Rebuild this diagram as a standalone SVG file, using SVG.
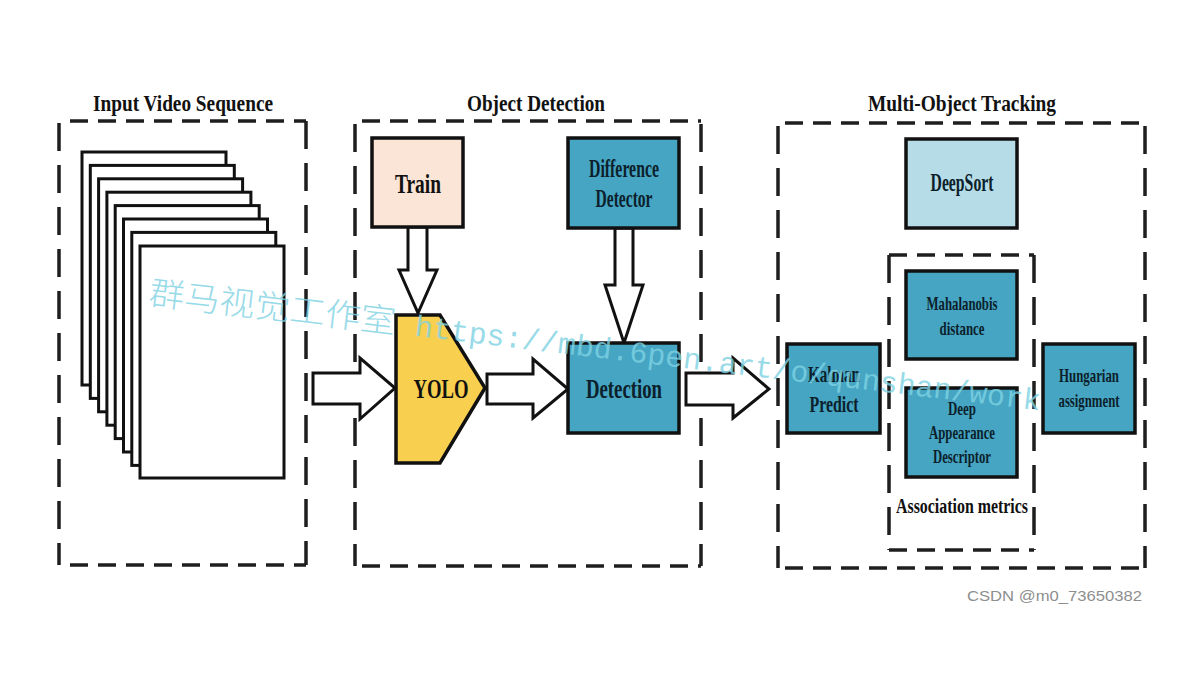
<svg xmlns="http://www.w3.org/2000/svg" width="1187" height="680" viewBox="0 0 1187 680">
<style>
.h{fill:none;stroke:#1e1e1e;stroke-width:3.5;stroke-dasharray:18 10}
.v{fill:none;stroke:#1e1e1e;stroke-width:3.5;stroke-dasharray:28 14}
.frame{fill:#fff;stroke:#111;stroke-width:3}
.box{stroke:#111;stroke-width:3.5}
.blue{fill:#45a5c3}
.lt{fill:#b6dce8}
.peach{fill:#fbe5d6}
.yolo{fill:#f8cf4f}
.arrow{fill:#fff;stroke:#111;stroke-width:3;stroke-linejoin:miter}
.t{font-family:"Liberation Serif","Times New Roman",serif;font-weight:bold;text-anchor:middle;fill:#111}
.tb{font-family:"Liberation Serif","Times New Roman",serif;font-weight:bold;text-anchor:middle;fill:#0c1f2b}
.wm{fill:#7fd3e3;opacity:0.8}
</style>
<rect width="1187" height="680" fill="#fff"/>

<g id="panel-input">
<path class="h" d="M70 121H306M70 565H306"/>
<path class="v" d="M59 123V565M306 121V565"/>
<text class="t" x="183" y="111" font-size="24" textLength="180" lengthAdjust="spacingAndGlyphs">Input Video Sequence</text>
</g>
<g id="video-frames">
<rect class="frame" x="82" y="152" width="144" height="233"/>
<rect class="frame" x="90.3" y="165.4" width="144" height="233"/>
<rect class="frame" x="98.6" y="178.8" width="144" height="233"/>
<rect class="frame" x="106.9" y="192.2" width="144" height="233"/>
<rect class="frame" x="115.2" y="205.6" width="144" height="233"/>
<rect class="frame" x="123.5" y="219" width="144" height="233"/>
<rect class="frame" x="131.8" y="232.4" width="144" height="233"/>
<rect class="frame" x="140" y="246" width="144" height="232"/>
</g>

<g id="panel-detection">
<path class="h" d="M362 121H701M362 566H701"/>
<path class="v" d="M355 124V566M701 124V566"/>
<text class="t" x="536" y="111" font-size="24" textLength="138" lengthAdjust="spacingAndGlyphs">Object Detection</text>
</g>

<g id="panel-tracking">
<path class="h" d="M785 123H1145M785 568H1145"/>
<path class="v" d="M778 126V568M1145 126V568"/>
<text class="t" x="962" y="111" font-size="24" textLength="188" lengthAdjust="spacingAndGlyphs">Multi-Object Tracking</text>
</g>

<g id="panel-association">
<path class="h" d="M889 255H1034M889 550H1034"/>
<path class="v" d="M889 255V550M1034 255V550"/>
<text class="t" x="962" y="513" font-size="20" textLength="132" lengthAdjust="spacingAndGlyphs">Association metrics</text>
</g>

<g id="connectors">
<polygon class="arrow" points="408,227 408,270 399,270 418,313 437,270 427,270 427,227"/>
<polygon class="arrow" points="615,228 615,285 605,285 624,343 643,285 633,285 633,228"/>
<polygon class="arrow" points="313,373 360,373 360,358 395,388 360,419 360,404 313,404"/>
<polygon class="arrow" points="487,374 533,374 533,359 568,389 533,418 533,404 487,404"/>
<polygon class="arrow" points="686,373 733,373 733,358 769,389 733,418 733,405 686,405"/>
</g>

<g id="train">
<rect class="box peach" x="372" y="138" width="91" height="89"/>
<text class="t" x="418" y="193" font-size="28" textLength="46" lengthAdjust="spacingAndGlyphs">Train</text>
</g>

<g id="difference-detector">
<rect class="box blue" x="568" y="138" width="111" height="90"/>
<text class="tb" x="624" y="177" font-size="25" textLength="70" lengthAdjust="spacingAndGlyphs">Difference</text>
<text class="tb" x="624" y="207" font-size="25" textLength="57" lengthAdjust="spacingAndGlyphs">Detector</text>
</g>

<g id="yolo">
<polygon class="box yolo" points="396,315 440,315 485,388 440,463 396,463"/>
<text class="t" x="441" y="398" font-size="28" textLength="55" lengthAdjust="spacingAndGlyphs">YOLO</text>
</g>

<g id="detection">
<rect class="box blue" x="568" y="343" width="111" height="90"/>
<text class="tb" x="624" y="398" font-size="28" textLength="76" lengthAdjust="spacingAndGlyphs">Detection</text>
</g>

<g id="deepsort">
<rect class="box lt" x="906" y="139" width="111" height="89"/>
<text class="tb" x="962" y="191" font-size="25" textLength="63" lengthAdjust="spacingAndGlyphs">DeepSort</text>
</g>

<g id="mahalanobis">
<rect class="box blue" x="906" y="271" width="111" height="88"/>
<text class="tb" x="962" y="310" font-size="19" textLength="71" lengthAdjust="spacingAndGlyphs">Mahalanobis</text>
<text class="tb" x="962" y="335" font-size="19" textLength="45" lengthAdjust="spacingAndGlyphs">distance</text>
</g>

<g id="deep-appearance">
<rect class="box blue" x="906" y="388" width="111" height="89"/>
<text class="tb" x="962" y="415" font-size="19" textLength="28" lengthAdjust="spacingAndGlyphs">Deep</text>
<text class="tb" x="962" y="439" font-size="19" textLength="66" lengthAdjust="spacingAndGlyphs">Appearance</text>
<text class="tb" x="962" y="463" font-size="19" textLength="58" lengthAdjust="spacingAndGlyphs">Descriptor</text>
</g>

<g id="kalman">
<rect class="box blue" x="787" y="344" width="93" height="89"/>
<text class="tb" x="834" y="382" font-size="23" textLength="52" lengthAdjust="spacingAndGlyphs">Kalman</text>
<text class="tb" x="834" y="412" font-size="23" textLength="49" lengthAdjust="spacingAndGlyphs">Predict</text>
</g>

<g id="hungarian">
<rect class="box blue" x="1043" y="344" width="92" height="89"/>
<text class="tb" x="1089" y="382" font-size="19" textLength="60" lengthAdjust="spacingAndGlyphs">Hungarian</text>
<text class="tb" x="1089" y="407" font-size="19" textLength="61" lengthAdjust="spacingAndGlyphs">assignment</text>
</g>

<g id="watermark" transform="rotate(6.8 148 304)">
<text class="wm" x="148" y="304" font-size="33" font-family="'Noto Sans CJK SC','Noto Sans',sans-serif" font-weight="300" textLength="248" lengthAdjust="spacingAndGlyphs">群马视觉工作室</text>
<text class="wm" x="416" y="304" font-size="30" font-family="'Liberation Mono','DejaVu Sans Mono',monospace" textLength="630" lengthAdjust="spacingAndGlyphs">https://mbd.6pen.art/o/qunshan/work</text>
</g>

<text x="967" y="601" font-size="15" font-family="'Liberation Sans',Arial,sans-serif" fill="#8e8e8e" textLength="175" lengthAdjust="spacingAndGlyphs">CSDN @m0_73650382</text>
</svg>
